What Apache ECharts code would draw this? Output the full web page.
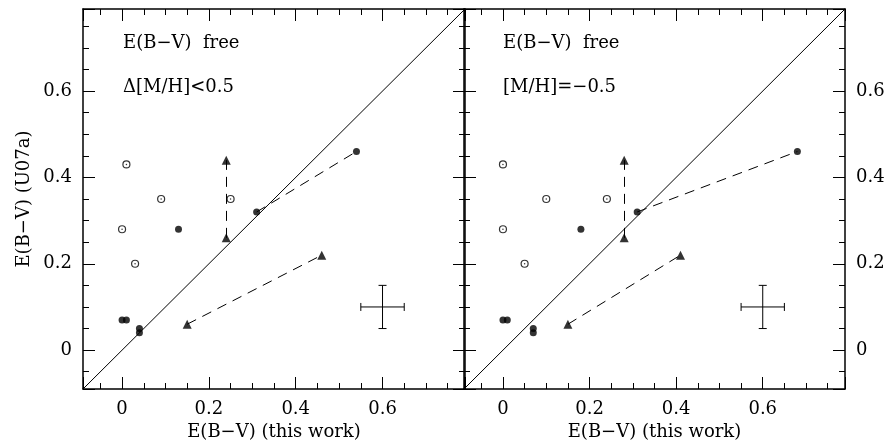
<!DOCTYPE html>
<html>
<head>
<meta charset="UTF-8" />
<title>E(B-V) comparison</title>
<script src="https://cdn.jsdelivr.net/npm/echarts@6/dist/echarts.min.js"></script>
<style>
    html, body { margin: 0; padding: 0; background: #fff; }
    #chart { width: 890px; height: 446px; }
</style>
</head>
<body>
<div id="chart"></div>
<script>
// shared range of both axes in both panels
var axisMin = -0.09, axisMax = 0.79;
var majorStep = 0.2, minorStep = 0.05;
var oneToOne = [[-0.09, -0.09], [0.79, 0.79]];

// left panel: E(B-V) free, Δ[M/H]<0.5
var leftOpen = [[0.01, 0.43], [0.09, 0.35], [0.25, 0.35], [0, 0.28], [0.03, 0.20]];
var leftFilled = [[0.54, 0.46], [0.31, 0.32], [0.13, 0.28], [0, 0.07], [0.01, 0.07], [0.04, 0.05], [0.04, 0.04]];
var leftTri = [[0.24, 0.44], [0.24, 0.26], [0.46, 0.22], [0.15, 0.06]];
var leftLinks = [[[0.31, 0.32], [0.54, 0.46]], [[0.24, 0.26], [0.24, 0.44]], [[0.15, 0.06], [0.46, 0.22]]];

// right panel: E(B-V) free, [M/H]=-0.5
var rightOpen = [[0, 0.43], [0.10, 0.35], [0.24, 0.35], [0, 0.28], [0.05, 0.20]];
var rightFilled = [[0.68, 0.46], [0.31, 0.32], [0.18, 0.28], [0, 0.07], [0.01, 0.07], [0.07, 0.05], [0.07, 0.04]];
var rightTri = [[0.28, 0.44], [0.28, 0.26], [0.41, 0.22], [0.15, 0.06]];
var rightLinks = [[[0.31, 0.32], [0.68, 0.46]], [[0.28, 0.26], [0.28, 0.44]], [[0.15, 0.06], [0.41, 0.22]]];

// typical error bar
var errPoint = [0.6, 0.1];
var errSize = [0.05, 0.05];

var FONT = '"DejaVu Serif", serif';
var INK = '#000';

function tickLabel(v) {
    var k = Math.round(v / majorStep);
    if (Math.abs(v - k * majorStep) > 1e-6) return '';
    return String(+(k * majorStep).toFixed(1));
}

// one axis: major (long ticks, frame line) or minor (short ticks only)
function makeAxis(gi, pos, major, showLabel, name, nameGap) {
    var step = major ? majorStep : minorStep;
    return {
        type: 'value',
        gridIndex: gi,
        position: pos,
        z: 5,
        min: axisMin,
        max: axisMax,
        minInterval: step,
        maxInterval: step,
        splitNumber: major ? 5 : 18,
        axisLine: { show: major, onZero: false, lineStyle: { color: INK, width: 1.5 } },
        axisTick: { show: true, inside: true, length: major ? 12 : 6, lineStyle: { color: INK, width: 1 } },
        axisLabel: { show: showLabel, formatter: tickLabel, color: INK, fontFamily: FONT, fontSize: 18, margin: 11 },
        splitLine: { show: false },
        name: name || '',
        nameLocation: 'middle',
        nameGap: nameGap || 0,
        nameTextStyle: { color: INK, fontFamily: FONT, fontSize: 18 }
    };
}

var xAxes = [], yAxes = [];
[0, 1].forEach(function (gi) {
    xAxes.push(makeAxis(gi, 'bottom', true, true, 'E(B\u2212V) (this work)', 34));
    xAxes.push(makeAxis(gi, 'bottom', false, false));
    xAxes.push(makeAxis(gi, 'top', true, false));
    xAxes.push(makeAxis(gi, 'top', false, false));
    yAxes.push(makeAxis(gi, 'left', true, gi === 0, gi === 0 ? 'E(B\u2212V) (U07a)' : '', 50));
    yAxes.push(makeAxis(gi, 'left', false, false));
    yAxes.push(makeAxis(gi, 'right', true, gi === 1));
    yAxes.push(makeAxis(gi, 'right', false, false));
});

function errorCross(params, api) {
    var x = api.value(0), y = api.value(1);
    var l = api.coord([x - errSize[0], y]), r = api.coord([x + errSize[0], y]);
    var t = api.coord([x, y + errSize[1]]), b = api.coord([x, y - errSize[1]]);
    var cap = 4;
    var st = { stroke: INK, lineWidth: 1 };
    function seg(x1, y1, x2, y2) {
        return { type: 'line', shape: { x1: x1, y1: y1, x2: x2, y2: y2 }, style: st };
    }
    return {
        type: 'group',
        children: [
            seg(l[0], l[1], r[0], r[1]),
            seg(t[0], t[1], b[0], b[1]),
            seg(l[0], l[1] - cap, l[0], l[1] + cap),
            seg(r[0], r[1] - cap, r[0], r[1] + cap),
            seg(t[0] - cap, t[1], t[0] + cap, t[1]),
            seg(b[0] - cap, b[1], b[0] + cap, b[1])
        ]
    };
}

function panelSeries(gi, open, filled, tri, links) {
    var list = [
        { type: 'line', data: oneToOne, symbol: 'none', lineStyle: { color: INK, width: 1 } },
        {
            type: 'lines', coordinateSystem: 'cartesian2d',
            data: links.map(function (c) { return { coords: c }; }),
            lineStyle: { color: INK, width: 1, type: [10, 7], opacity: 1, curveness: 0 }
        },
        { type: 'scatter', data: open, symbol: 'circle', symbolSize: 7, itemStyle: { color: '#fff', borderColor: INK, borderWidth: 1.2 } },
        { type: 'scatter', data: open, symbol: 'circle', symbolSize: 1.5, itemStyle: { color: INK } },
        { type: 'scatter', data: filled, symbol: 'circle', symbolSize: 7, itemStyle: { color: INK } },
        { type: 'scatter', data: tri, symbol: 'triangle', symbolSize: 9, itemStyle: { color: INK } },
        { type: 'custom', data: [errPoint], renderItem: errorCross }
    ];
    return list.map(function (s) {
        s.xAxisIndex = gi * 4;
        s.yAxisIndex = gi * 4;
        s.silent = true;
        return s;
    });
}

function note(x, y, text) {
    return { type: 'text', x: x, y: y, style: { text: text, fill: INK, font: '18px ' + FONT, verticalAlign: 'middle' } };
}

var chart = echarts.init(document.getElementById('chart'));
chart.setOption({
    animation: false,
    grid: [
        { left: 83, top: 9, width: 382, height: 380 },
        { left: 464, top: 9, width: 381, height: 380 }
    ],
    xAxis: xAxes,
    yAxis: yAxes,
    series: panelSeries(0, leftOpen, leftFilled, leftTri, leftLinks)
        .concat(panelSeries(1, rightOpen, rightFilled, rightTri, rightLinks)),
    graphic: [
        note(123, 43, 'E(B\u2212V)  free'),
        note(123, 87, '\u0394[M/H]<0.5'),
        note(503, 43, 'E(B\u2212V)  free'),
        note(503, 87, '[M/H]=\u22120.5')
    ]
});
</script>
</body>
</html>
